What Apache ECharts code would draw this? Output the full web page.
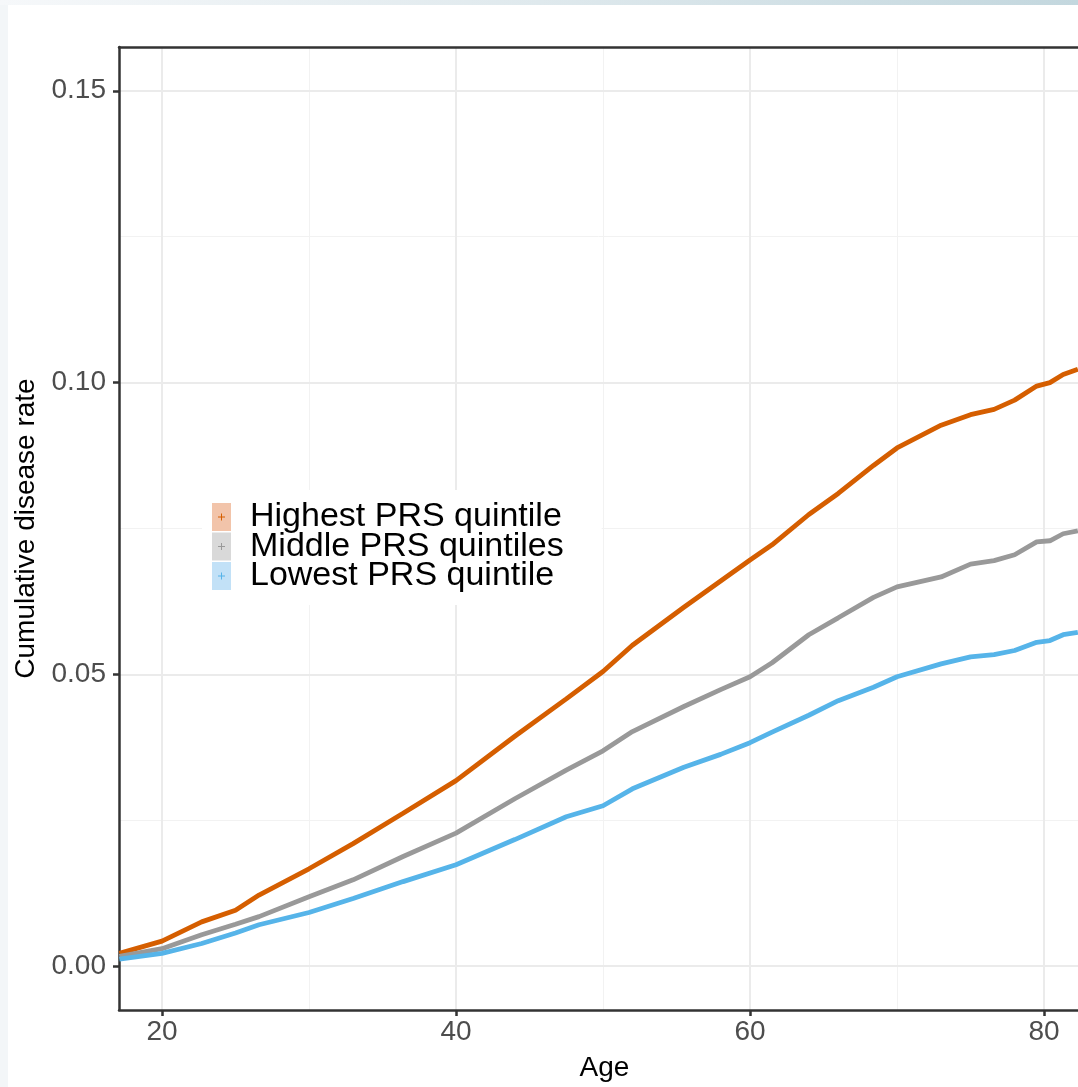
<!DOCTYPE html>
<html>
<head>
<meta charset="utf-8">
<script src="https://cdn.jsdelivr.net/npm/echarts@6/dist/echarts.min.js"></script>
<style>
html,body{margin:0;padding:0;background:#fff;}
#chart{width:1078px;height:1087px;}
</style>
</head>
<body>
<div id="chart"></div>
<script>
// ---- data ----
const ages = [17.1, 20, 22.7, 25, 26.6, 30, 33, 36.4, 40, 44, 47.5, 50, 52, 55.5, 58, 60, 61.5, 64, 66, 68.4, 70, 73, 75, 76.6, 78, 79.5, 80.4, 81.3, 82.3];
const highest = [0.0022, 0.0043, 0.0076, 0.0096, 0.0122, 0.0167, 0.0210, 0.0262, 0.0318, 0.0394, 0.0458, 0.0505, 0.0550, 0.0615, 0.0660, 0.0696, 0.0722, 0.0774, 0.0810, 0.0858, 0.0888, 0.0927, 0.0945, 0.0954, 0.0970, 0.0994, 0.1000, 0.1014, 0.1023];
const middle  = [0.0017, 0.0030, 0.0054, 0.0072, 0.0085, 0.0119, 0.0148, 0.0188, 0.0228, 0.0287, 0.0336, 0.0369, 0.0402, 0.0445, 0.0474, 0.0496, 0.0520, 0.0568, 0.0597, 0.0632, 0.0650, 0.0667, 0.0689, 0.0695, 0.0705, 0.0727, 0.0729, 0.0741, 0.0746];
const lowest  = [0.0012, 0.0022, 0.0039, 0.0057, 0.0071, 0.0092, 0.0116, 0.0145, 0.0174, 0.0217, 0.0256, 0.0275, 0.0304, 0.0341, 0.0363, 0.0383, 0.0401, 0.0430, 0.0455, 0.0478, 0.0496, 0.0518, 0.0530, 0.0534, 0.0541, 0.0555, 0.0558, 0.0568, 0.0572];
const seriesNames = ['Highest PRS quintile', 'Middle PRS quintiles', 'Lowest PRS quintile'];
const xMajorTicks = [20, 40, 60, 80];
const xMinorTicks = [30, 50, 70];
const yMajorTicks = [0, 0.05, 0.10, 0.15];
const yMinorTicks = [0.025, 0.075, 0.125];
const xTitle = 'Age';
const yTitle = 'Cumulative disease rate';

// ---- styling ----
const lineColors = ['#d55e00', '#999999', '#56b4e9'];
const keyColors = ['#f2c4aa', '#d9d9d9', '#c2e1f7'];
const FONT = 'Liberation Sans, Arial, Helvetica, sans-serif';
const plusIcon = 'path://M0,0h0.01v0.01h-0.01z M18.99,27.99h0.01v0.01h-0.01z M6,13.5h7v1h-7z M9,10.5h1v7h-1z';
const X_MIN = 17.075, X_MAX = 82.31, Y_MIN = -0.0075, Y_MAX = 0.1575;

const chart = echarts.init(document.getElementById('chart'), null, {renderer: 'canvas'});

function pairs(vals) { return ages.map((a, i) => [a, vals[i]]); }

const dataSeries = [highest, middle, lowest].map((vals, i) => ({
  name: seriesNames[i],
  type: 'line',
  xAxisIndex: 0, yAxisIndex: 0,
  data: pairs(vals),
  showSymbol: false,
  symbol: 'none',
  smooth: false,
  lineStyle: {color: lineColors[i], width: 4.8},
  itemStyle: {color: lineColors[i]},
  z: 3,
  animation: false
}));

const legendCommon = {
  orient: 'vertical',
  left: 202, top: 490,
  padding: [10, 38, 12, 10],
  itemWidth: 19, itemHeight: 28, itemGap: -4.5,
  selectedMode: false,
  textStyle: {fontFamily: FONT, fontSize: 34, color: '#000000', padding: [0, 0, 0, 14]}
};

const option = {
  backgroundColor: '#ffffff',
  animation: false,
  graphic: [
    {type: 'rect', left: 0, top: 0, shape: {width: 8, height: 1087}, style: {fill: '#f3f6f8'}, z: -10, silent: true},
    {type: 'rect', left: 0, top: 0, shape: {width: 1078, height: 5},
     style: {fill: new echarts.graphic.LinearGradient(0, 0, 1, 0, [{offset: 0, color: '#f6f8fa'}, {offset: 0.5, color: '#dfe9ed'}, {offset: 1, color: '#c3d7de'}])},
     z: -10, silent: true}
  ],
  grid: {left: 119, top: 47, right: 0, bottom: 75, containLabel: false},
  legend: [
    Object.assign({}, legendCommon, {
      data: seriesNames.map((n, i) => ({name: n, itemStyle: {color: keyColors[i]}})),
      backgroundColor: '#ffffff',
      icon: 'rect',
      z: 5
    }),
    Object.assign({}, legendCommon, {
      data: seriesNames.map((n, i) => ({name: n, itemStyle: {color: lineColors[i]}})),
      icon: plusIcon,
      symbolKeepAspect: false,
      formatter: () => ' ',
      z: 6
    })
  ],
  xAxis: [
    {
      type: 'value', min: X_MIN, max: X_MAX, position: 'bottom',
      name: xTitle, nameLocation: 'middle', nameGap: 44,
      nameTextStyle: {fontFamily: FONT, fontSize: 28, color: '#000000', padding: [0, 0, 0, 12]},
      axisLine: {show: true, onZero: false, lineStyle: {color: '#333333', width: 2.5}},
      axisTick: {show: true, length: 6, lineStyle: {color: '#333333', width: 2.5}, customValues: xMajorTicks},
      axisLabel: {show: true, customValues: xMajorTicks, fontFamily: FONT, fontSize: 28, color: '#4d4d4d', margin: 8},
      splitLine: {show: true, lineStyle: {color: '#ebebeb', width: 2, type: 'solid'}},
      z: 1
    },
    {
      type: 'value', min: X_MIN, max: X_MAX, position: 'top',
      axisLine: {show: true, onZero: false, lineStyle: {color: '#333333', width: 2.5}},
      axisTick: {show: false}, axisLabel: {show: false}, splitLine: {show: false},
      z: 2
    },
    {
      type: 'value', min: X_MIN, max: X_MAX, position: 'bottom',
      axisLine: {show: false, onZero: false}, axisLabel: {show: false},
      axisTick: {show: false, customValues: xMinorTicks},
      splitLine: {show: true, lineStyle: {color: '#f2f2f2', width: 1, type: 'solid'}},
      z: 0
    }
  ],
  yAxis: [
    {
      type: 'value', min: Y_MIN, max: Y_MAX,
      name: yTitle, nameLocation: 'middle', nameGap: 74, nameRotate: 90,
      nameTextStyle: {fontFamily: FONT, fontSize: 28, color: '#000000'},
      axisLine: {show: true, onZero: false, lineStyle: {color: '#333333', width: 2.5}},
      axisTick: {show: true, length: 6, lineStyle: {color: '#333333', width: 2.5}, customValues: yMajorTicks},
      axisLabel: {show: true, customValues: yMajorTicks, fontFamily: FONT, fontSize: 28, color: '#4d4d4d', margin: 13,
                  formatter: v => v.toFixed(2)},
      splitLine: {show: true, lineStyle: {color: '#ebebeb', width: 2, type: 'solid'}},
      z: 1
    },
    {
      type: 'value', min: Y_MIN, max: Y_MAX, position: 'left',
      axisLine: {show: false, onZero: false}, axisLabel: {show: false},
      axisTick: {show: false, customValues: yMinorTicks},
      splitLine: {show: true, lineStyle: {color: '#f2f2f2', width: 1, type: 'solid'}},
      z: 0
    }
  ],
  series: dataSeries
};
chart.setOption(option);
</script>
</body>
</html>
